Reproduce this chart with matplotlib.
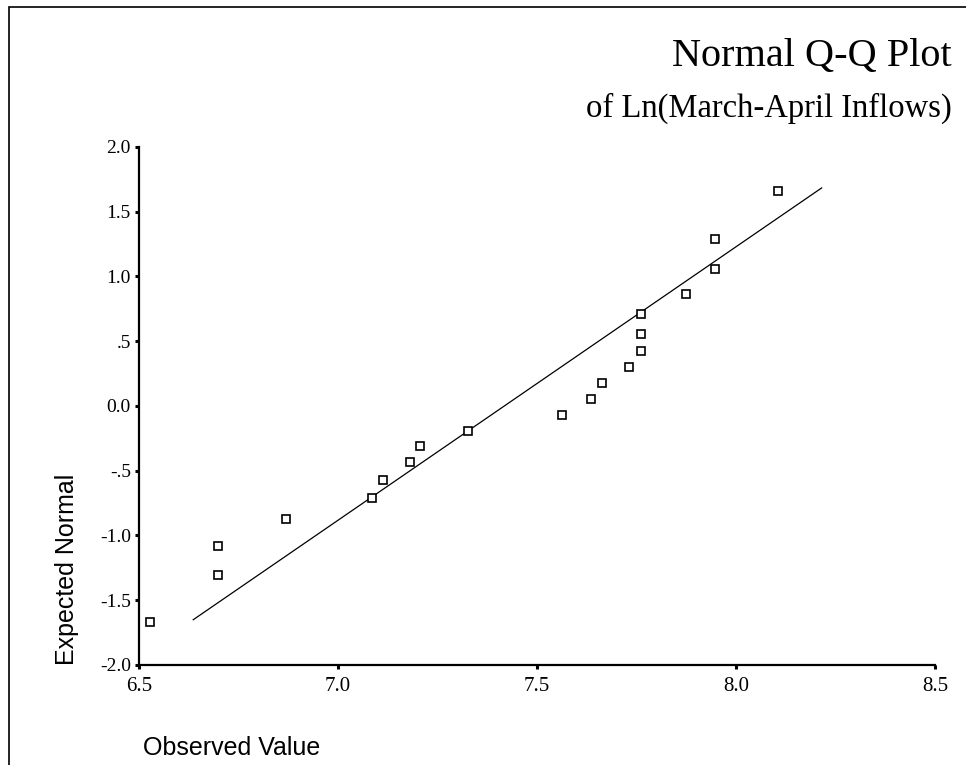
import numpy as np
import matplotlib.pyplot as plt
from matplotlib.patches import Rectangle

# observed ln(inflow) vs expected normal value
observed = [6.528, 6.699, 6.699, 6.868, 7.084, 7.112, 7.180, 7.207, 7.327,
            7.563, 7.636, 7.664, 7.730, 7.760, 7.760, 7.760, 7.873, 7.948,
            7.948, 8.105]
expected = [-1.668, -1.081, -1.305, -0.873, -0.710, -0.571, -0.432, -0.309,
            -0.193, -0.069, 0.054, 0.178, 0.301, 0.425, 0.556, 0.710, 0.865,
            1.058, 1.290, 1.660]

# reference line end points
line_x = [6.636, 8.215]
line_y = [-1.652, 1.683]

xticks = [6.5, 7.0, 7.5, 8.0, 8.5]
xticklabels = ['6.5', '7.0', '7.5', '8.0', '8.5']
yticks = [-2.0, -1.5, -1.0, -0.5, 0.0, 0.5, 1.0, 1.5, 2.0]
yticklabels = ['-2.0', '-1.5', '-1.0', '-.5', '0.0', '.5', '1.0', '1.5', '2.0']

serif = 'Liberation Serif'
sans = 'Liberation Sans'

fig = plt.figure(figsize=(9.66, 7.65), dpi=100)
ax = fig.add_axes([0.144, 0.131, 0.824, 0.677])

ax.plot(line_x, line_y, color='k', lw=0.9)
ax.plot(observed, expected, 's', ms=5.5, mfc='white', mec='k', mew=1.2,
        linestyle='none')

ax.set_xlim(6.5, 8.5)
ax.set_ylim(-2.0, 2.0)
ax.set_xticks(xticks)
ax.set_xticklabels(xticklabels, fontfamily=serif, fontsize=15)
ax.set_yticks(yticks)
ax.set_yticklabels(yticklabels, fontfamily=serif, fontsize=14)
ax.tick_params(length=3, width=2.2, direction='out')
ax.tick_params(axis='x', pad=6)
ax.tick_params(axis='y', pad=3)

for s in ['top', 'right']:
    ax.spines[s].set_visible(False)
for s in ['left', 'bottom']:
    ax.spines[s].set_linewidth(1.6)

fig.text(0.985, 0.914, 'Normal Q-Q Plot', ha='right', va='baseline',
         fontfamily=serif, fontsize=29)
fig.text(0.985, 0.848, 'of Ln(March-April Inflows)', ha='right',
         va='baseline', fontfamily=serif, fontsize=23.5)
fig.text(0.069, 0.256, 'Expected Normal', rotation=90, ha='center',
         va='center', fontfamily=sans, fontsize=18)
fig.text(0.148, 0.022, 'Observed Value', ha='left', va='center',
         fontfamily=sans, fontsize=18)

# frame around the page (left and top edges visible)
fig.add_artist(Rectangle((9 / 966, -0.05), 1.2, 1.05 - 7 / 765,
                         transform=fig.transFigure, fill=False,
                         edgecolor='k', lw=1.2, clip_on=False))

fig.savefig('out.png', dpi=100)
